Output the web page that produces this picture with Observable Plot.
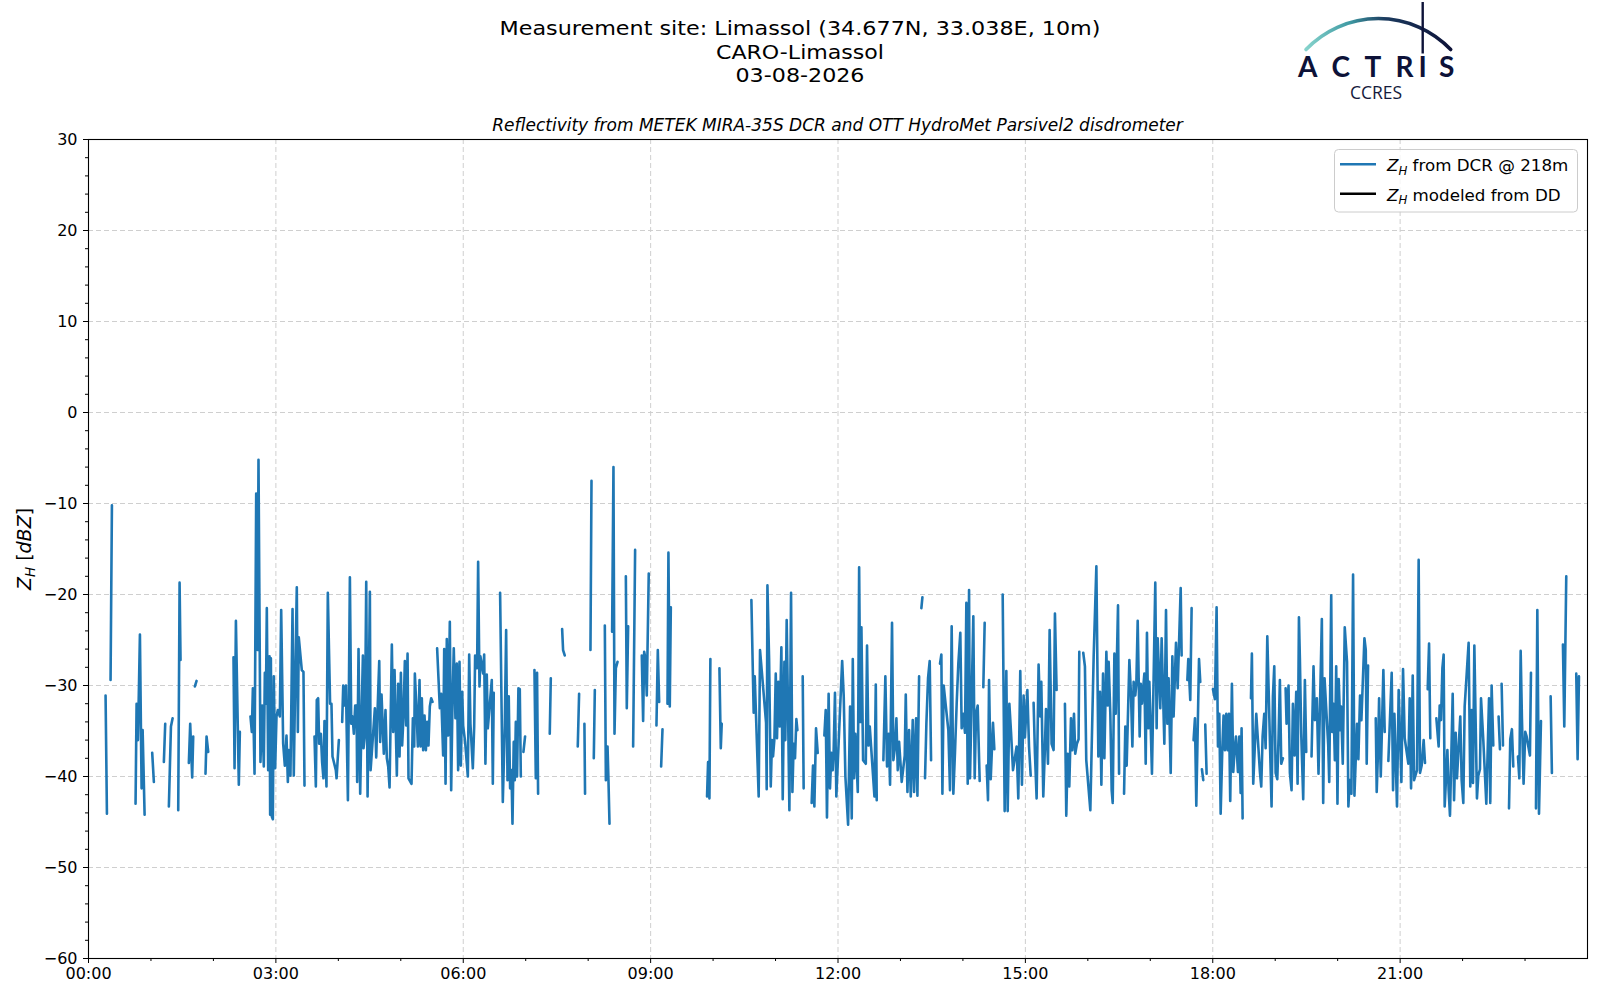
<!DOCTYPE html>
<html>
<head>
<meta charset="utf-8">
<script src="https://cdn.jsdelivr.net/npm/d3@7"></script>
<script src="https://cdn.jsdelivr.net/npm/@observablehq/plot@0.6"></script>
<style>
  html, body { margin: 0; padding: 0; background: #ffffff; }
  #wrap { position: relative; width: 1600px; height: 1000px; background: #ffffff; }
</style>
</head>
<body>
<div id="wrap"></div>
<script>
// ---------------- data ----------------
const titleLines = ["Measurement site: Limassol (34.677N, 33.038E, 10m)", "CARO-Limassol", "03-08-2026"];
const subtitle = "Reflectivity from METEK MIRA-35S DCR and OTT HydroMet Parsivel2 disdrometer";
const legendLabels = [" from DCR @ 218m", " modeled from DD"];
const dayStartUTC = Date.UTC(2026, 7, 3);

// [minutes after 00:00, Z_H from DCR in dBZ]; null marks a gap in the record
const dcrPoints = [
  [16.4,-31.1],[17.7,-44.1], null,
  [21.2,-29.4],[22.5,-10.2], null,
  [45.2,-43.0],[46.2,-32.0],[47.5,-36.0],[49.4,-24.4],[51.0,-41.3],[52.0,-34.9],[53.9,-44.2], null,
  [61.2,-37.4],[62.8,-40.6], null,
  [72.4,-38.4],[73.7,-34.2], null,
  [77.2,-43.3],[79.2,-34.5],[80.8,-33.6], null,
  [86.2,-43.7],[87.5,-18.7],[88.4,-27.2], null,
  [96.4,-38.5],[97.7,-34.2],[99.6,-40.1],[100.6,-35.6], null,
  [102.2,-30.1],[103.8,-29.5], null,
  [112.4,-39.7],[113.4,-35.6],[115.0,-37.3], null,
  [139.3,-26.9],[140.3,-39.1],[141.6,-22.9],[144.4,-40.9],[145.4,-35.1], null,
  [155.6,-33.4],[156.9,-35.1],[157.9,-30.3],[159.5,-39.7],[161.1,-8.9],[162.4,-26.1],[163.3,-5.2],[165.2,-38.4],
  [166.8,-32.2],[168.4,-38.9],[169.4,-28.6],[170.4,-32.0],[171.3,-21.5],[172.6,-39.3],[173.9,-26.8],[174.5,-44.2],
  [175.2,-27.0],[176.1,-44.4],[177.1,-44.7],[178.0,-29.0],[179.3,-39.1],[180.6,-33.4],[181.9,-32.7],[183.8,-33.4],
  [185.1,-21.7],[187.0,-36.4],[188.6,-38.8],[190.2,-35.5],[191.5,-40.6],[192.4,-37.1],[194.0,-39.9],[196.0,-21.6],
  [197.2,-39.9],[198.8,-27.9],[200.1,-19.2],[201.1,-35.1],[202.0,-24.7],[204.9,-28.3],[206.5,-28.5],[207.5,-41.0], null,
  [217.1,-35.6],[218.4,-41.1],[219.3,-31.6],[220.6,-31.4],[221.6,-36.4],[223.2,-35.3],[224.4,-38.4],[225.7,-40.2],
  [226.7,-33.9],[228.6,-41.1],[229.9,-19.8],[232.1,-32.0],[233.4,-32.0],[234.4,-37.8],[237.6,-39.3],[238.3,-40.2],[240.5,-36.0], null,
  [243.7,-34.0],[244.7,-30.0],[246.0,-32.2],[247.3,-30.0],[249.2,-42.6],[251.1,-18.1],[252.4,-34.2],[253.7,-33.4],
  [254.9,-35.3],[256.2,-32.2],[257.5,-32.2],[258.1,-40.6],[259.4,-26.0],[261.0,-41.9],[262.3,-33.4],[263.6,-26.7],
  [264.2,-36.9],[265.5,-35.5],[266.8,-18.6],[268.1,-42.2],[270.3,-19.7],[271.0,-39.3],[275.1,-32.5],[276.4,-37.9],
  [277.7,-32.7],[279.3,-27.3],[280.2,-36.2],[281.5,-31.0],[283.7,-37.5],[285.3,-32.7],[286.6,-38.0],[287.9,-38.9],
  [289.2,-41.2],[291.4,-25.5],[292.7,-35.1],[294.0,-28.3],[296.2,-39.9],[297.5,-29.8],[298.8,-37.8],[300.1,-28.6],
  [301.3,-36.6],[302.6,-33.4],[303.9,-27.3],[305.2,-34.4],[306.5,-26.5],[307.4,-40.2],[310.3,-40.8],[311.6,-33.6],
  [312.9,-36.7],[313.5,-28.7],[315.1,-32.7],[316.4,-36.7],[318.0,-29.4],[319.0,-36.7],[320.2,-31.4],[321.5,-37.1],
  [322.8,-33.3],[324.1,-37.1],[325.3,-34.0],[326.6,-36.6],[327.9,-32.3],[329.2,-31.4],[330.5,-31.8], null,
  [334.9,-25.9],[337.5,-32.5],[338.8,-30.9],[340.7,-37.7],[341.7,-26.0],[343.0,-40.8],[344.2,-24.9],[345.5,-35.5],
  [347.1,-23.0],[348.4,-41.5],[349.7,-31.6],[350.9,-25.9],[352.5,-33.6],[353.8,-27.6],[355.1,-39.3],[356.4,-27.4],
  [357.7,-38.8],[359.0,-30.7],[359.9,-34.4],[361.8,-36.2],[364.4,-40.0],[365.7,-26.6],[366.9,-34.2],[369.2,-39.1],
  [370.5,-34.5],[371.4,-26.7],[373.3,-28.1],[374.3,-16.4],[375.6,-30.1],[376.5,-26.8],[379.1,-28.7],[380.1,-26.6],
  [381.3,-38.6],[382.6,-28.8],[383.6,-34.7],[387.4,-29.4],[388.4,-40.8],[389.3,-30.8], null,
  [395.4,-19.8],[398.0,-42.8],[399.9,-34.4],[401.2,-23.9],[402.5,-40.4],[403.7,-31.2],[405.0,-41.3],[406.3,-39.3],
  [407.3,-45.2],[408.5,-36.2],[409.5,-40.4],[410.5,-34.0],[411.7,-40.0],[413.0,-30.3],[414.3,-30.4],[415.3,-40.0], null,
  [417.8,-37.3],[419.4,-35.6], null,
  [428.4,-28.3],[429.7,-40.2],[430.9,-28.6],[431.9,-41.9], null,
  [443.1,-35.3],[444.1,-29.2], null,
  [455.0,-23.8],[455.9,-26.1],[457.5,-26.7], null,
  [470.0,-36.7],[471.3,-30.9], null,
  [476.4,-34.2],[477.0,-41.9], null,
  [482.2,-26.1],[483.2,-7.5], null,
  [485.4,-38.0],[486.4,-30.5], null,
  [496.0,-23.4],[497.0,-40.4],[498.6,-36.7],[499.5,-40.4],[500.5,-45.2], null,
  [503.0,-24.1],[504.3,-6.0],[505.3,-35.3],[506.6,-28.1],[508.2,-27.4], null,
  [516.2,-18.0],[517.1,-32.5],[518.4,-23.5], null,
  [523.2,-36.7],[525.1,-15.1], null,
  [531.5,-26.7],[532.8,-33.9],[533.8,-26.3],[535.0,-27.0],[536.3,-31.1],[538.2,-17.7], null,
  [545.6,-34.4],[546.9,-26.1],[548.2,-31.8], null,
  [550.1,-38.9],[551.4,-34.8], null,
  [556.2,-32.0],[557.1,-15.4],[558.4,-32.3],[559.4,-21.4], null,
  [594.2,-42.2],[595.2,-38.4],[596.5,-42.4],[597.4,-27.1], null,
  [606.1,-28.1],[607.4,-36.9],[608.3,-34.2], null,
  [636.8,-20.6],[639.0,-33.0],[640.0,-29.0],[643.8,-42.2],[645.1,-26.1],[650.9,-34.1],[651.5,-41.4],[652.2,-19.0],
  [653.8,-27.0],[655.4,-41.1],[656.6,-36.0],[657.6,-37.8],[658.9,-35.9],[660.2,-28.7],[661.4,-35.8],[662.7,-29.6],
  [664.0,-34.5],[665.6,-25.8],[666.9,-42.5],[668.5,-27.4],[669.4,-36.0],[670.7,-22.8],[672.0,-32.7],[673.3,-43.7],
  [674.9,-19.8],[676.2,-41.7],[677.4,-36.4],[678.7,-38.0],[680.0,-33.7],[681.0,-34.9], null,
  [686.1,-29.0],[687.0,-41.3], null,
  [694.7,-42.9],[696.0,-38.8],[697.3,-43.3],[698.9,-34.7],[700.5,-37.4], null,
  [706.9,-35.5],[708.2,-32.7],[709.4,-44.5],[711.0,-30.9],[712.3,-41.3],[713.6,-37.4],[714.9,-39.3],[715.8,-37.3],
  [717.1,-30.8],[718.4,-42.2],[721.7,-33.4],[724.0,-27.3],[725.5,-31.2],[727.1,-40.0],[729.7,-45.3],[731.6,-32.3],
  [733.2,-44.6],[734.2,-27.1],[735.5,-40.2],[736.7,-35.3],[739.0,-41.7],[740.3,-17.0],[741.5,-34.0],[742.5,-23.6],
  [744.1,-38.2],[746.7,-38.6],[747.9,-25.6],[749.2,-36.6],[750.5,-34.5],[755.0,-42.2],[756.3,-29.9],[757.2,-42.6], null,
  [763.6,-38.2],[765.5,-29.0],[767.1,-38.9],[768.7,-35.3],[770.0,-40.9],[771.9,-23.1],[773.2,-38.2],[774.8,-36.7],
  [776.1,-33.6],[777.4,-39.3],[778.7,-36.2],[781.2,-40.6],[784.1,-37.7],[785.1,-31.0],[786.7,-41.7],[788.3,-34.9],
  [789.9,-42.2],[791.8,-33.8],[793.1,-41.7],[795.0,-33.6],[796.3,-42.1],[797.9,-29.0], null,
  [800.1,-21.5],[801.1,-20.3], null,
  [803.6,-40.2],[804.9,-34.2],[806.5,-29.2],[808.1,-27.3],[809.4,-38.2], null,
  [818.0,-27.6],[819.3,-26.6],[820.3,-41.9],[821.5,-30.0],[826.0,-34.9],[827.6,-41.5],[829.2,-23.5],[830.8,-41.9],
  [832.4,-37.3],[834.0,-32.0],[835.6,-27.6],[837.5,-24.2],[838.8,-34.7],[840.4,-33.1],[842.0,-35.2],[843.3,-20.9],
  [844.6,-40.8],[845.9,-19.5],[846.8,-40.2],[848.1,-33.1],[850.0,-22.4],[851.3,-40.2],[852.6,-33.1],[854.2,-32.2],[856.1,-40.5], null,
  [859.6,-30.2],[860.9,-23.1], null,
  [862.8,-38.8],[864.1,-42.6],[865.1,-29.4],[866.7,-40.3],[868.9,-34.1],[870.2,-37.0], null,
  [878.2,-20.0],[880.1,-43.8],[881.7,-28.4],[883.0,-43.8],[884.6,-32.0],[886.2,-35.1],[888.1,-39.3],[891.6,-36.7],
  [893.2,-42.4],[895.1,-28.4],[896.7,-40.9],[898.3,-31.1],[899.6,-35.7],[901.9,-30.5],[903.5,-36.7],[905.1,-39.9], null,
  [907.9,-31.9],[909.2,-37.5],[910.8,-42.4],[912.7,-27.7],[914.3,-33.4],[915.3,-29.6],[917.2,-42.2],[918.5,-37.8],
  [919.8,-32.6],[921.7,-38.6],[923.3,-23.9],[925.2,-36.4],[927.1,-37.1],[928.4,-22.1],[930.0,-30.5], null,
  [938.0,-32.0],[939.3,-44.3],[940.6,-37.5],[942.2,-41.1],[943.8,-33.6],[945.1,-37.1],[946.7,-33.1],[947.9,-37.5],
  [949.5,-36.4],[951.1,-35.9],[951.8,-26.3], null,
  [955.6,-26.4],[957.2,-27.9],[958.5,-38.2],[962.4,-43.7],[965.6,-26.8],[968.2,-16.9],[970.1,-37.8],[971.7,-30.7],
  [973.0,-40.9],[974.6,-28.7],[975.9,-38.0],[977.8,-26.3],[979.1,-32.2],[980.0,-27.4],[981.6,-33.1],[982.9,-41.5],
  [983.9,-42.9],[985.5,-26.5],[986.8,-33.1],[989.0,-21.2],[990.0,-39.7], null,
  [994.8,-41.9],[996.0,-34.5],[997.3,-38.8],[999.9,-27.2],[1001.5,-31.1],[1002.8,-36.7],[1004.0,-29.6],[1005.6,-31.1],
  [1006.6,-29.8],[1007.9,-22.9],[1009.8,-35.6],[1010.8,-29.8],[1012.0,-32.0],[1014.3,-28.7],[1015.6,-38.6],[1016.8,-24.2],
  [1018.1,-34.7],[1019.1,-29.6],[1020.4,-34.5],[1021.6,-39.7],[1023.2,-29.2],[1024.8,-18.7],[1026.1,-34.7],[1027.1,-24.8],
  [1029.6,-32.5],[1030.9,-24.8],[1033.5,-36.4],[1035.1,-21.7],[1036.4,-34.2],[1037.6,-29.2],[1039.6,-39.6],[1041.2,-26.8],
  [1042.4,-33.4],[1044.7,-25.3],[1046.3,-30.3],[1047.6,-25.4],[1049.2,-19.3],[1050.1,-26.7], null,
  [1055.6,-29.4],[1056.5,-27.1],[1058.4,-31.6],[1059.7,-21.5], null,
  [1061.6,-36.0],[1062.9,-33.6],[1064.2,-43.2],[1066.8,-27.1],[1068.0,-29.6], null,
  [1069.6,-39.2],[1070.9,-40.4], null,
  [1072.8,-34.3],[1074.1,-39.7], null,
  [1080.2,-30.4],[1082.1,-31.5],[1083.7,-21.4],[1085.0,-36.7],[1086.3,-33.1],[1087.6,-44.1],[1089.2,-36.9],[1090.4,-33.3],
  [1091.7,-37.1],[1093.0,-33.1],[1094.3,-37.1],[1095.6,-33.1],[1096.8,-42.7],[1098.4,-29.8],[1099.7,-39.5],[1101.0,-37.1],
  [1102.3,-35.6],[1104.2,-39.5],[1105.5,-35.6],[1106.8,-41.8],[1107.7,-34.7],[1108.7,-44.6], null,
  [1116.7,-31.4],[1117.6,-26.5],[1118.9,-40.8],[1120.2,-37.3],[1121.8,-33.1],[1125.3,-39.5],[1126.6,-41.1],[1127.9,-35.6],
  [1129.5,-33.1],[1130.8,-36.9],[1132.4,-24.6],[1136.5,-43.3],[1137.8,-31.2],[1139.1,-27.9],[1140.4,-39.6],[1142.0,-40.3],
  [1143.2,-35.8],[1144.5,-29.4],[1145.8,-38.6],[1147.4,-38.0], null,
  [1150.0,-30.3],[1150.9,-34.2],[1152.8,-30.0],[1154.1,-39.6],[1155.7,-41.5],[1157.0,-32.0],[1158.6,-37.7],[1160.2,-30.7],
  [1161.5,-40.8],[1162.8,-22.5],[1163.7,-27.0],[1165.0,-35.3],[1166.9,-42.5],[1168.5,-29.4],[1169.8,-37.3], null,
  [1174.9,-37.8],[1176.8,-27.9],[1178.1,-33.8],[1180.0,-31.4],[1181.6,-39.7],[1184.8,-22.7],[1186.1,-42.9],[1187.4,-29.2],
  [1190.9,-36.5],[1191.9,-40.6],[1193.8,-20.1],[1194.8,-35.1],[1196.0,-32.0],[1197.3,-38.2],[1198.6,-27.9],[1199.8,-43.0],
  [1201.0,-29.3],[1202.6,-34.9],[1203.3,-32.3],[1204.9,-38.6],[1206.8,-23.6],[1209.0,-27.4],[1210.3,-43.3],[1211.6,-40.4],
  [1213.2,-41.9],[1214.8,-17.8],[1216.1,-42.1],[1218.6,-34.2],[1219.9,-38.1],[1221.5,-31.1],[1222.8,-33.8],[1225.7,-24.8],
  [1227.0,-26.1],[1227.9,-38.6],[1229.2,-27.8], null,
  [1236.6,-33.6],[1237.5,-41.7],[1238.8,-37.1],[1239.8,-31.4],[1241.4,-40.0],[1243.9,-28.3],[1245.2,-35.1], null,
  [1248.7,-38.3],[1251.9,-28.6],[1253.2,-41.5],[1254.5,-33.1],[1257.0,-43.3],[1258.6,-30.5],[1261.2,-40.6],[1262.8,-28.2],
  [1264.4,-35.8],[1267.9,-38.6],[1269.2,-31.4],[1270.5,-41.3],[1272.1,-28.9],[1273.4,-40.4],[1276.2,-39.3],[1277.8,-16.2],
  [1279.1,-39.6],[1280.7,-38.8],[1282.6,-36.0],[1283.9,-38.5], null,
  [1286.5,-30.4],[1287.8,-25.4],[1289.0,-35.8], null,
  [1294.8,-33.6],[1297.0,-36.7],[1298.0,-32.2],[1299.3,-33.8],[1300.6,-28.1],[1301.8,-26.6],[1302.8,-43.3],[1305.4,-37.1],
  [1306.6,-41.5],[1307.9,-44.3],[1310.5,-30.9],[1311.8,-42.6],[1313.4,-35.2],[1314.6,-40.2],[1317.8,-33.4],[1319.1,-40.4],
  [1320.7,-42.9],[1322.0,-32.3],[1325.8,-25.3],[1327.4,-41.1],[1328.7,-32.7],[1330.0,-40.7],[1331.3,-25.6],[1333.8,-42.4],
  [1335.1,-39.9],[1336.7,-39.2],[1337.7,-31.4],[1339.9,-36.0],[1342.8,-43.0],[1345.4,-31.4],[1346.6,-42.9],[1347.9,-30.0],[1349.5,-36.6], null,
  [1354.6,-33.4],[1355.9,-37.0], null,
  [1357.5,-29.8],[1358.8,-36.6], null,
  [1364.6,-43.5],[1365.8,-35.9],[1367.4,-34.8],[1368.7,-38.9], null,
  [1373.2,-37.8],[1374.5,-40.2],[1375.8,-26.2],[1377.0,-33.6],[1378.6,-40.8],[1380.2,-35.1],[1381.5,-35.6],[1384.7,-37.7],[1385.7,-28.6], null,
  [1390.5,-43.5],[1391.8,-21.7],[1393.4,-44.1],[1395.3,-33.9], null,
  [1404.6,-31.2],[1405.8,-39.6], null,
  [1416.4,-25.5],[1417.7,-34.5],[1419.6,-18.0], null,
  [1429.2,-28.7],[1430.5,-38.1],[1431.8,-29.0]
];
// Z_H modeled from the disdrometer: no values on this day
const modeledPoints = [];

const xMajorHours = [0, 3, 6, 9, 12, 15, 18, 21];
const xMinorHours = [1, 2, 4, 5, 7, 8, 10, 11, 13, 14, 16, 17, 19, 20, 22, 23];
const yMajorTicks = [-60, -50, -40, -30, -20, -10, 0, 10, 20, 30];
const yMinorTicks = [-58, -56, -54, -52, -48, -46, -44, -42, -38, -36, -34, -32, -28, -26, -24, -22, -18, -16, -14, -12,
                     -8, -6, -4, -2, 2, 4, 6, 8, 12, 14, 16, 18, 22, 24, 26, 28];

// ---------------- build ----------------
const toDate = m => new Date(dayStartUTC + m * 60000);
const hourDate = h => new Date(dayStartUTC + h * 3600000);
function toRows(points) {
  const rows = [];
  let last = 0;
  for (const p of points) {
    if (p) { rows.push({t: toDate(p[0]), zh: p[1]}); last = p[0]; }
    else rows.push({t: toDate(last), zh: NaN});
  }
  return rows;
}
const dcrRows = toRows(dcrPoints);
const modeledRows = toRows(modeledPoints);
const minusFmt = d => d < 0 ? "\u2212" + Math.abs(d) : String(d);
const FONT = "DejaVu Sans, Liberation Sans, sans-serif";
const BLUE = "#1f77b4";
const TICK_FS = 16;

const chart = Plot.plot({
  width: 1600,
  height: 1000,
  marginLeft: 88,
  marginRight: 13,
  marginTop: 139,
  marginBottom: 42,
  style: {fontFamily: FONT, fontSize: TICK_FS + "px", color: "#000", background: "#fff", overflow: "visible"},
  x: {type: "utc", domain: [hourDate(0), hourDate(24)]},
  y: {domain: [-60, 30]},
  marks: [
    Plot.gridX(xMajorHours.map(hourDate), {stroke: "#cfcfcf", strokeOpacity: 1, strokeWidth: 1, strokeDasharray: "5,3"}),
    Plot.gridY(yMajorTicks, {stroke: "#cfcfcf", strokeOpacity: 1, strokeWidth: 1, strokeDasharray: "5,3"}),
    Plot.line(modeledRows, {x: "t", y: "zh", stroke: "#000", strokeWidth: 2.6}),
    Plot.line(dcrRows, {x: "t", y: "zh", stroke: BLUE, strokeWidth: 2.6, strokeLinejoin: "round"}),
    Plot.frame({stroke: "#000", strokeWidth: 1.1}),
    Plot.axisX(xMajorHours.map(hourDate), {anchor: "bottom", tickSize: 5, tickPadding: 4, tickFormat: d3.utcFormat("%H:%M"), label: null, fontSize: TICK_FS}),
    Plot.axisX(xMinorHours.map(hourDate), {anchor: "bottom", tickSize: 3, tickFormat: () => "", label: null}),
    Plot.axisY(yMajorTicks, {anchor: "left", tickSize: 5, tickPadding: 6, tickFormat: minusFmt, label: null, fontSize: TICK_FS}),
    Plot.axisY(yMinorTicks, {anchor: "left", tickSize: 3, tickFormat: () => "", label: null})
  ]
});

document.getElementById("wrap").appendChild(chart);

// ---------------- annotations ----------------
const svg = d3.select(chart);

// suptitle: three centred lines (font kept small enough for the lines not to overlap, stretched to the original widths)
const titleBaselines = [35, 58.5, 82];
const titleWidths = [601, 168, 129];
titleLines.forEach((s, i) => {
  svg.append("text").attr("x", 800).attr("y", titleBaselines[i])
    .attr("text-anchor", "middle").attr("font-family", FONT).attr("font-size", 20)
    .attr("textLength", titleWidths[i]).attr("lengthAdjust", "spacingAndGlyphs")
    .attr("fill", "#000").text(s);
});

// axes subtitle
svg.append("text").attr("x", 837.5).attr("y", 131)
  .attr("text-anchor", "middle").attr("font-family", FONT).attr("font-size", 17)
  .attr("font-style", "italic").attr("fill", "#000").text(subtitle);

// y label: Z_H [dBZ]
const yl = svg.append("text").attr("transform", "translate(31,549) rotate(-90)")
  .attr("text-anchor", "middle").attr("font-family", FONT).attr("font-size", 19).attr("fill", "#000");
yl.append("tspan").attr("font-style", "italic").text("Z");
yl.append("tspan").attr("font-style", "italic").attr("font-size", 13.5).attr("dy", 4).text("H");
yl.append("tspan").attr("dy", -4).text(" [");
yl.append("tspan").attr("font-style", "italic").text("dBZ");
yl.append("tspan").text("]");

// legend
const lg = svg.append("g").attr("text-anchor", "start");
lg.append("rect").attr("x", 1334.5).attr("y", 149.5).attr("width", 243).attr("height", 62.5)
  .attr("rx", 4).attr("fill", "#fff").attr("fill-opacity", 0.8).attr("stroke", "#cccccc").attr("stroke-width", 1);
const legendColors = [BLUE, "#000"];
const legendY = [164.3, 193.8];
legendLabels.forEach((lab, i) => {
  lg.append("line").attr("x1", 1340).attr("x2", 1376).attr("y1", legendY[i]).attr("y2", legendY[i])
    .attr("stroke", legendColors[i]).attr("stroke-width", 2.6);
  const t = lg.append("text").attr("x", 1387).attr("y", legendY[i] + 6.8).attr("text-anchor", "start")
    .attr("font-family", FONT).attr("font-size", 16.7).attr("fill", "#000");
  t.append("tspan").attr("font-style", "italic").text("Z");
  t.append("tspan").attr("font-style", "italic").attr("font-size", 11.8).attr("dy", 3.5).text("H");
  t.append("tspan").attr("dy", -3.5).text(lab);
});

// ACTRIS / CCRES logo
const defs = svg.append("defs");
const grad = defs.append("linearGradient").attr("id", "arcGrad")
  .attr("gradientUnits", "userSpaceOnUse").attr("x1", 1306).attr("y1", 0).attr("x2", 1451).attr("y2", 0);
grad.append("stop").attr("offset", "0%").attr("stop-color", "#86d3cc");
grad.append("stop").attr("offset", "30%").attr("stop-color", "#3f9aa3");
grad.append("stop").attr("offset", "55%").attr("stop-color", "#1b3a5e");
grad.append("stop").attr("offset", "100%").attr("stop-color", "#0d1238");
const logo = svg.append("g");
logo.append("path").attr("d", "M1306,49.5 A100,100 0 0,1 1450.7,49.5")
  .attr("fill", "none").attr("stroke", "url(#arcGrad)").attr("stroke-width", 3.6).attr("stroke-linecap", "round");
logo.append("line").attr("x1", 1422.7).attr("x2", 1422.7).attr("y1", 2).attr("y2", 53.5)
  .attr("stroke", "#0d1238").attr("stroke-width", 2.4);
const actris = [["A", 1307.8], ["C", 1340.8], ["T", 1373], ["R", 1404.5], ["I", 1422.7], ["S", 1446.7]];
actris.forEach(([ch, x]) => {
  logo.append("text").attr("x", x).attr("y", 77.3).attr("text-anchor", "middle")
    .attr("font-family", "Lato, Open Sans, sans-serif").attr("font-size", 28).attr("font-weight", 700)
    .attr("fill", "#0d1238").text(ch);
});
logo.append("text").attr("x", 1376).attr("y", 99).attr("text-anchor", "middle")
  .attr("font-family", "Open Sans, sans-serif").attr("font-size", 17.5).attr("fill", "#141a3c").text("CCRES");
</script>
</body>
</html>
